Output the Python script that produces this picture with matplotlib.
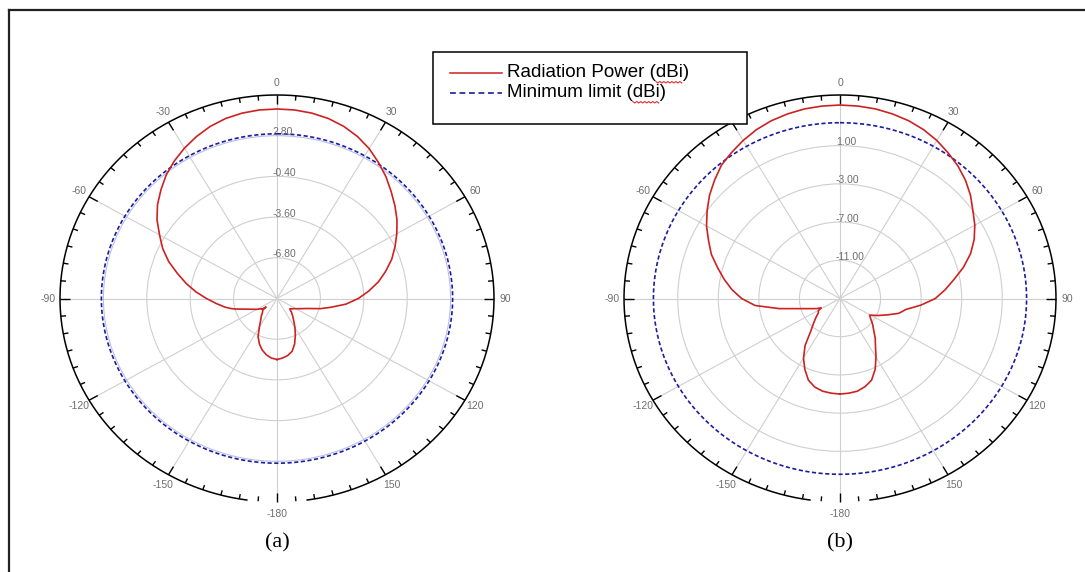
import numpy as np
import matplotlib.pyplot as plt
from matplotlib.lines import Line2D
from matplotlib.patches import Rectangle

plt.rcParams['font.family'] = ['Liberation Sans', 'DejaVu Sans']

# angular ticks (clockwise from north)
theta_ticks = [0, 30, 60, 90, 120, 150, 180, 210, 240, 270, 300, 330]
theta_labels = ['0', '30', '60', '90', '120', '150', '-180', '-150', '-120', '-90', '-60', '-30']

# (a) radiation pattern, dBi
ang_a = [-180, -175, -170, -165, -160, -155, -150, -145, -140, -135, -131, -129.5, -127, -125,
         -120, -115, -110, -105, -103, -100, -95, -90, -85, -80, -75, -70, -65, -60, -55, -50,
         -45, -40, -35, -30, -25, -20, -15, -10, -5, 0, 5, 10, 15, 20, 25, 30, 35, 40, 45, 50,
         55, 60, 65, 70, 75, 80, 85, 90, 95, 100, 104, 110, 115, 120, 125, 129, 131, 135, 140,
         145, 150, 155, 160, 165, 170, 175, 180]
pwr_a = [-5.2, -5.3, -5.5, -5.8, -6.2, -6.7, -7.4, -7.9, -8.2, -8.5, -8.6, -8.95, -8.6, -8.6,
         -8.3, -8.0, -7.55, -6.8, -6.5, -6.1, -5.5, -4.8, -4.0, -3.2, -2.4, -1.5, -0.7, 0.0, 0.8, 1.5,
         2.1, 2.7, 3.2, 3.65, 4.05, 4.4, 4.65, 4.8, 4.88, 4.9, 4.88, 4.8, 4.65, 4.4, 4.05, 3.6, 3.05, 2.5, 1.9, 1.35,
         0.8, 0.2, -0.4, -1.0, -1.7, -2.4, -3.2, -4.0, -4.9, -6.0, -6.7, -7.7, -8.1, -8.4, -8.6, -8.7, -8.75, -8.5, -8.2,
         -7.85, -7.35, -6.8, -6.2, -5.7, -5.45, -5.3, -5.2]
limit_a = 2.95
rticks_a = [-6.8, -3.6, -0.4, 2.8]

# (b) radiation pattern, dBi
ang_b = [-180, -175, -170, -165, -160, -155, -150, -145, -140, -135, -130, -125, -121, -118, -116,
         -115, -110, -105, -100, -95, -90, -85, -80, -75, -70, -65, -60, -55, -50, -45, -40, -35,
         -30, -25, -20, -15, -10, -5, 0, 5, 10, 15, 20, 25, 30, 35, 40, 45, 50, 55, 60, 65, 70,
         75, 80, 85, 90, 95, 100, 105, 110, 115, 120, 121, 125, 130, 135, 140, 145, 150, 155, 160,
         165, 170, 175, 180]
pwr_b = [-5.0, -5.05, -5.15, -5.4, -5.9, -6.8, -7.8, -9.0, -10.5, -11.3, -11.9, -12.4, -12.5, -12.9, -12.7,
         -12.5, -11.9, -10.9, -8.9, -6.6, -5.3, -4.3, -3.4, -2.5, -1.5, -0.7, 0.2, 1.0, 1.8, 2.5, 3.2, 3.65,
         4.1, 4.5, 4.8, 5.0, 5.15, 5.22, 5.25, 5.22, 5.15, 5.0, 4.8, 4.5, 4.1, 3.6, 3.1, 2.5, 1.8, 1.0, 0.35, -0.4, -1.3,
         -2.4, -3.6, -4.6, -5.6, -7.0, -8.4, -9.0, -10.0, -10.8, -11.5, -11.6, -11.3, -10.8, -10.3, -9.6, -8.9, -7.9, -6.8, -5.9,
         -5.45, -5.15, -5.05, -5.0]
limit_b = 3.4
rticks_b = [-11, -7, -3, 1]

legend_labels = ['Radiation Power (dBi)', 'Minimum limit (dBi)']

RED = '#cc2222'
BLUE = '#1c1ca0'
GRID = '#cfcfcf'
LABEL = '#6e6e6e'

W, H = 1085, 572
fig = plt.figure(figsize=(W / 100, H / 100), dpi=100)


def draw_panel(rect, ang, pwr, limit, rticks, rmin, rmax, caption, tint=None):
    ax = fig.add_axes(rect, projection='polar')
    ax.set_aspect('auto')
    ax.set_theta_zero_location('N')
    ax.set_theta_direction(-1)
    ax.set_ylim(rmin, rmax)

    ax.set_xticks(np.deg2rad(theta_ticks))
    ax.set_xticklabels(theta_labels, color=LABEL, fontsize=7.5)
    ax.tick_params(axis='x', length=0, pad=1.5)
    ax.set_yticks(rticks)
    ax.set_yticklabels([])
    ax.grid(True, color=GRID, lw=0.8)
    ax.spines['polar'].set_visible(False)
    if tint is not None:
        ax.yaxis.get_gridlines()[tint].set_color('#b8bfe6')

    for r in rticks:
        ax.annotate(f'{r:.2f}', xy=(0, r), xytext=(-3, 2.5), textcoords='offset points',
                    ha='left', va='center', fontsize=7.5, color=LABEL)

    # outer ring, open at the bottom, with inward ticks every 5 degrees
    span = rmax - rmin
    ring = np.deg2rad(np.linspace(-172, 172, 500))
    ax.plot(ring, np.full_like(ring, rmax), color='k', lw=1.1, clip_on=False)
    for deg in range(0, 360, 5):
        t = np.deg2rad(deg)
        ln = 0.046 if deg % 30 == 0 else 0.024
        ax.plot([t, t], [rmax - ln * span, rmax], color='k', lw=1.0, clip_on=False,
                solid_capstyle='butt')

    full = np.linspace(0, 2 * np.pi, 721)
    ax.plot(full, np.full_like(full, limit), color=BLUE, lw=1.2, ls=(0, (2.5, 1.5)))
    ax.plot(np.deg2rad(ang), pwr, color=RED, lw=1.2)

    cx = rect[0] + rect[2] / 2
    fig.text(cx, 1 - 543 / H, caption, family=['Liberation Serif', 'DejaVu Serif'],
             fontsize=16, ha='center', va='center')
    return ax


bottom = (H - 502) / H
height = 407 / H
draw_panel([60 / W, bottom, 434 / W, height], ang_a, pwr_a, limit_a, rticks_a, -10, 6.0, '(a)', tint=3)
draw_panel([624 / W, bottom, 432 / W, height], ang_b, pwr_b, limit_b, rticks_b, -15, 6.3, '(b)')


# legend box drawn by hand in pixel coordinates
def fx(px):
    return px / W


def fy(py):
    return 1 - py / H


fig.add_artist(Rectangle((fx(433), fy(124)), (747 - 433) / W, (124 - 52) / H,
                         transform=fig.transFigure, facecolor='white', edgecolor='k',
                         lw=1.1, zorder=5))
rows = [72.5, 92.5]
styles = [dict(color=RED, lw=1.1), dict(color=BLUE, lw=1.2, ls=(0, (3.5, 2.2)))]
fig.canvas.draw()
renderer = fig.canvas.get_renderer()
for y, lab, st in zip(rows, legend_labels, styles):
    fig.add_artist(Line2D([fx(450), fx(502)], [fy(y), fy(y)], transform=fig.transFigure,
                          zorder=6, **st))
    txt = fig.text(fx(507), fy(y), lab, fontsize=13.5, ha='left', va='center', zorder=6)
    # red spell-check squiggle under "dBi"
    pre = lab[:lab.index('dBi')]
    fp = txt.get_fontproperties()
    w_pre = renderer.get_text_width_height_descent(pre, fp, ismath=False)[0]
    w_dbi = renderer.get_text_width_height_descent('dBi', fp, ismath=False)[0]
    xs = np.arange(507 + w_pre, 507 + w_pre + w_dbi, 2.0)
    ys = y + 9 + np.where(np.arange(len(xs)) % 2 == 0, 0.0, 1.5)
    fig.add_artist(Line2D(fx(xs), fy(ys), transform=fig.transFigure, color='#e03030',
                          lw=0.8, zorder=6))

# page frame (left and top edges only)
fig.add_artist(Line2D([fx(8.5), fx(8.5)], [0, fy(10)], transform=fig.transFigure, color='#222222', lw=1.6))
fig.add_artist(Line2D([fx(8.5), 1], [fy(10), fy(10)], transform=fig.transFigure, color='#222222', lw=1.6))

fig.savefig('out.png', dpi=100)
